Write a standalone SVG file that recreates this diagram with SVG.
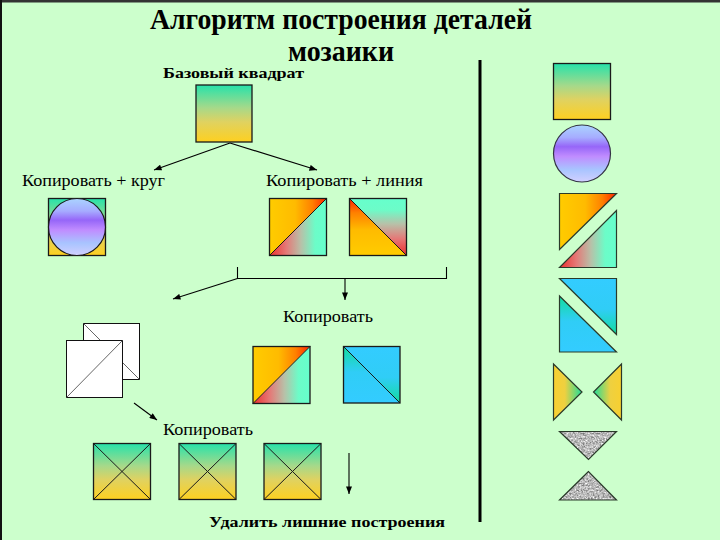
<svg xmlns="http://www.w3.org/2000/svg" width="720" height="540" viewBox="0 0 720 540">
<style>
.sq{stroke:#1a1a1a;stroke-width:1.3}
.tri{stroke:#2a3a2a;stroke-width:1.2;stroke-linejoin:miter}
.dg{stroke:#1a1a1a;stroke-width:1}
.conn{stroke:#000;stroke-width:1.1;fill:none}
.t{font-family:"Liberation Serif","Times New Roman",serif;fill:#000}
.b{font-weight:bold}
</style>
<defs>
<linearGradient id="gBase" x1="0" y1="0" x2="0" y2="1">
<stop offset="0" stop-color="#26e2aa"/><stop offset="0.4" stop-color="#a6d98a"/><stop offset="0.65" stop-color="#e0d260"/><stop offset="1" stop-color="#fed020"/>
</linearGradient>
<linearGradient id="gCircle" x1="0" y1="0" x2="0" y2="1">
<stop offset="0" stop-color="#aad4ff"/><stop offset="0.22" stop-color="#a6acff"/><stop offset="0.38" stop-color="#9666f8"/><stop offset="0.55" stop-color="#c08cff"/><stop offset="0.78" stop-color="#a8c4ff"/><stop offset="1" stop-color="#d2d0ff"/>
</linearGradient>
<linearGradient id="gYR" x1="0" y1="0" x2="1" y2="0">
<stop offset="0" stop-color="#ffcc00"/><stop offset="0.45" stop-color="#ffbb00"/><stop offset="0.75" stop-color="#ff8000"/><stop offset="1" stop-color="#ff2200"/>
</linearGradient>
<linearGradient id="gRM" x1="0" y1="0" x2="1" y2="0">
<stop offset="0" stop-color="#ee2e2e"/><stop offset="0.3" stop-color="#e47a78"/><stop offset="0.55" stop-color="#b8c0a8"/><stop offset="0.8" stop-color="#6cfcc8"/><stop offset="1" stop-color="#66ffcc"/>
</linearGradient>
<linearGradient id="gBUR" x1="0" y1="0" x2="0" y2="1">
<stop offset="0" stop-color="#33ccff"/><stop offset="0.55" stop-color="#30cdf6"/><stop offset="1" stop-color="#12dd9e"/>
</linearGradient>
<linearGradient id="gBLL" x1="0" y1="0" x2="0" y2="1">
<stop offset="0" stop-color="#12dd9e"/><stop offset="0.45" stop-color="#30cdf6"/><stop offset="1" stop-color="#33ccff"/>
</linearGradient>
<linearGradient id="gBowL" x1="0" y1="0" x2="1" y2="0">
<stop offset="0" stop-color="#f8d030"/><stop offset="0.4" stop-color="#eed040"/><stop offset="1" stop-color="#1edd9a"/>
</linearGradient>
<linearGradient id="gBowR" x1="1" y1="0" x2="0" y2="0">
<stop offset="0" stop-color="#f8d030"/><stop offset="0.4" stop-color="#eed040"/><stop offset="1" stop-color="#1edd9a"/>
</linearGradient>
<filter id="granite" x="0" y="0" width="1" height="1" color-interpolation-filters="sRGB">
<feTurbulence type="fractalNoise" baseFrequency="0.6" numOctaves="3" seed="4" result="n"/>
<feColorMatrix in="n" type="matrix" values="0.45 0.45 0.45 0 0.05  0.45 0.45 0.45 0 0.05  0.45 0.45 0.45 0 0.05  0 0 0 0 1" result="g"/>
<feComposite in="g" in2="SourceGraphic" operator="in"/>
</filter>
<marker id="ah" viewBox="0 0 10 8" refX="10" refY="4" markerWidth="8" markerHeight="6" markerUnits="userSpaceOnUse" orient="auto">
<path d="M0,0 L10,4 L0,8 z" fill="#000"/>
</marker>
<g id="lineSq">
<polygon points="0,0 57,0 0,57" fill="url(#gYR)"/>
<polygon points="57,0 57,57 0,57" fill="url(#gRM)"/>
<rect x="0" y="0" width="57" height="57" fill="none" class="sq"/>
<line x1="0" y1="57" x2="57" y2="0" class="dg"/>
</g>
<g id="xSq">
<rect x="0" y="0" width="57" height="56" fill="url(#gBase)" class="sq"/>
<line x1="0" y1="0" x2="57" y2="56" class="dg"/>
<line x1="0" y1="56" x2="57" y2="0" class="dg"/>
</g>
</defs>

<rect x="0" y="0" width="720" height="540" fill="#ccffcc"/>
<rect x="0" y="0" width="720" height="2.5" fill="#333"/>
<rect x="0" y="0" width="2" height="540" fill="#111"/>

<g id="title">
<text class="t b" x="150" y="29" font-size="30" textLength="382" lengthAdjust="spacingAndGlyphs">Алгоритм построения деталей</text>
<text class="t b" x="288" y="61" font-size="30" textLength="106" lengthAdjust="spacingAndGlyphs">мозаики</text>
</g>

<g id="separator"><line x1="480" y1="60" x2="480" y2="522" stroke="#000" stroke-width="3"/></g>

<g id="base">
<text class="t b" x="163" y="78" font-size="15" textLength="141" lengthAdjust="spacingAndGlyphs">Базовый квадрат</text>
<rect x="196" y="85" width="56" height="57" fill="url(#gBase)" class="sq"/>
</g>

<g id="copyCircle">
<text class="t" x="22" y="186" font-size="16" textLength="143" lengthAdjust="spacingAndGlyphs">Копировать + круг</text>
<rect x="48.5" y="198.5" width="57" height="57" fill="url(#gBase)" class="sq"/>
<circle cx="77" cy="227" r="28.5" fill="url(#gCircle)" stroke="#1a1a1a" stroke-width="1.2"/>
</g>

<g id="copyLine">
<text class="t" x="266" y="186" font-size="16" textLength="157" lengthAdjust="spacingAndGlyphs">Копировать + линия</text>
<use href="#lineSq" x="269.5" y="198.5"/>
<g transform="rotate(-90 378 227)"><use href="#lineSq" x="349.5" y="198.5"/></g>
</g>

<g id="whiteSquares">
<rect x="83.5" y="323.5" width="56" height="56" fill="#fff" stroke="#111" stroke-width="1"/>
<line x1="83.5" y1="323.5" x2="139.5" y2="379.5" stroke="#666" stroke-width="1"/>
<rect x="66.5" y="340.5" width="56" height="57" fill="#fff" stroke="#111" stroke-width="1"/>
<line x1="66.5" y1="397.5" x2="122.5" y2="340.5" stroke="#666" stroke-width="1"/>
</g>

<g id="copy2">
<text class="t" x="283" y="322" font-size="16" textLength="90" lengthAdjust="spacingAndGlyphs">Копировать</text>
<use href="#lineSq" x="253" y="346.5"/>
<g id="blueSq">
<polygon points="343.5,346.5 400,346.5 400,403" fill="url(#gBUR)"/>
<polygon points="343.5,346.5 400,403 343.5,403" fill="url(#gBLL)"/>
<rect x="343.5" y="346.5" width="56.5" height="56.5" fill="none" class="sq"/>
<line x1="343.5" y1="346.5" x2="400" y2="403" class="dg"/>
</g>
</g>

<g id="copy3">
<text class="t" x="163" y="435" font-size="16" textLength="90" lengthAdjust="spacingAndGlyphs">Копировать</text>
<use href="#xSq" x="93.5" y="443.5"/>
<use href="#xSq" x="179" y="443.5"/>
<use href="#xSq" x="264" y="443.5"/>
</g>

<g id="remove">
<text class="t b" x="209" y="527" font-size="15" textLength="236" lengthAdjust="spacingAndGlyphs">Удалить лишние построения</text>
</g>

<g id="pieces">
<rect id="pSquare" x="553.5" y="63.5" width="57" height="56" fill="url(#gBase)" class="sq"/>
<circle id="pCircle" cx="582" cy="153.5" r="28.5" fill="url(#gCircle)" stroke="#334" stroke-width="1.2"/>
<g id="pTri1">
<polygon points="559.5,193.5 616.5,193.5 559.5,249.5" fill="url(#gYR)" class="tri"/>
<polygon points="616.5,210.5 616.5,267.5 559.5,267.5" fill="url(#gRM)" class="tri"/>
</g>
<g id="pTri2">
<polygon points="559.5,278.5 616.5,278.5 616.5,334.5" fill="url(#gBUR)" class="tri"/>
<polygon points="559.5,296 559.5,352 616.5,352" fill="url(#gBLL)" class="tri"/>
</g>
<g id="pBow">
<polygon points="553.5,364 553.5,420 582,392" fill="url(#gBowL)" class="tri"/>
<polygon points="621.5,364 621.5,420 593.5,392" fill="url(#gBowR)" class="tri"/>
</g>
<g id="pGray">
<polygon points="559.5,431.5 616.5,431.5 588.5,459.5" fill="#bbb" filter="url(#granite)"/>
<polygon points="559.5,431.5 616.5,431.5 588.5,459.5" fill="none" class="tri"/>
<polygon points="588.5,471.5 559.5,500 616.5,500" fill="#bbb" filter="url(#granite)"/>
<polygon points="588.5,471.5 559.5,500 616.5,500" fill="none" class="tri"/>
</g>
</g>

<g id="connectors">
<line x1="230" y1="143" x2="154" y2="170" class="conn" marker-end="url(#ah)"/>
<line x1="230" y1="143" x2="317" y2="170" class="conn" marker-end="url(#ah)"/>
<path d="M237.5,267 V278.5 H446.5 V267" class="conn"/>
<line x1="237.5" y1="278.5" x2="173" y2="299" class="conn" marker-end="url(#ah)"/>
<line x1="345" y1="278.5" x2="345" y2="300" class="conn" marker-end="url(#ah)"/>
<line x1="134" y1="403" x2="157" y2="420" class="conn" marker-end="url(#ah)"/>
<line x1="349" y1="453" x2="349" y2="494" class="conn" marker-end="url(#ah)"/>
</g>
</svg>
